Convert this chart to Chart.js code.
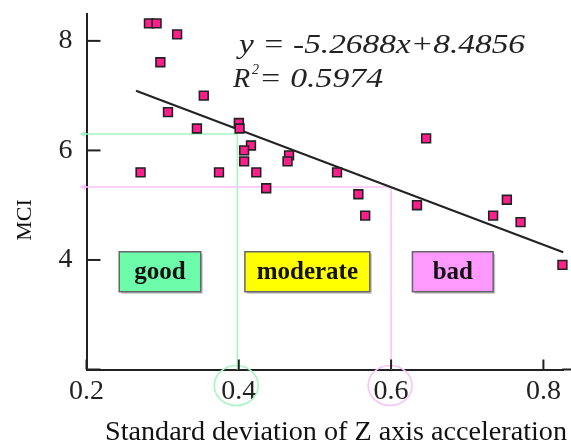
<!DOCTYPE html>
<html>
<head>
<meta charset="utf-8">
<script src="https://cdn.jsdelivr.net/npm/chart.js@4.4.1/dist/chart.umd.min.js"></script>
<style>
html,body{margin:0;padding:0;background:#fff;}
#wrap{width:571px;height:445px;position:relative;}
</style>
</head>
<body>
<div id="wrap"><canvas id="mciChart"></canvas></div>
<script>
/* ============================= */
/* DATA */
/* ============================= */

const sdZ = [0.282, 0.292, 0.319, 0.297, 0.354, 0.307, 0.345, 0.400, 0.401, 0.416, 0.407, 0.407, 0.271, 0.374, 0.423, 0.436, 0.466, 0.464, 0.529, 0.557, 0.566, 0.634, 0.646, 0.752, 0.734, 0.770, 0.825]
const mci = [8.32, 8.32, 8.12, 7.61, 7.00, 6.70, 6.40, 6.50, 6.40, 6.09, 6.00, 5.80, 5.60, 5.60, 5.60, 5.31, 5.91, 5.80, 5.60, 5.20, 4.81, 5.00, 6.22, 5.10, 4.81, 4.69, 3.91]

const trendX = [0.265, 0.826]
const trendY = [7.09, 4.14]

const xTicks = [0.2, 0.4, 0.6, 0.8]
const yTicks = [2, 4, 6, 8]

const equationText = "y = -5.2688x+8.4856"
const r2Text = "= 0.5974"

const zones = [
  {label:"good", x0:0.243, x1:0.350, fill:"#6cfcaa"},
  {label:"moderate", x0:0.408, x1:0.572, fill:"#ffff00"},
  {label:"bad", x0:0.628, x1:0.734, fill:"#ff99ff"}
]
const zoneY = [4.15, 3.42]

const guides = [
  {x:0.398, y:6.30, color:"#a6f5c2"},
  {x:0.600, y:5.33, color:"#fac2fa"}
]

const SERIF = "'Liberation Serif', 'Times New Roman', serif"

/* ============================= */
/* HELPERS */
/* ============================= */

function fitText(ctx, txt, x, y, w){
  const m = ctx.measureText(txt).width
  ctx.save()
  ctx.translate(x, y)
  ctx.scale(w / m, 1)
  ctx.fillText(txt, 0, 0)
  ctx.restore()
}

/* ============================= */
/* DECORATION PLUGIN */
/* ============================= */

const decor = {
  id:"decor",
  beforeDatasetsDraw(chart){
    const ctx = chart.ctx
    const xs = chart.scales.x, ys = chart.scales.y
    const area = chart.chartArea

    // guide lines with arrows to the y axis
    guides.forEach(g=>{
      const px = xs.getPixelForValue(g.x)
      const py = ys.getPixelForValue(g.y)
      ctx.save()
      ctx.strokeStyle = g.color
      ctx.fillStyle = g.color
      ctx.lineWidth = 1.5
      ctx.beginPath()
      ctx.moveTo(area.left - 5, py)
      ctx.lineTo(px, py)
      ctx.lineTo(px, area.bottom)
      ctx.stroke()
      ctx.beginPath()
      ctx.moveTo(area.left - 7, py)
      ctx.lineTo(area.left - 1, py - 3)
      ctx.lineTo(area.left - 1, py + 3)
      ctx.closePath()
      ctx.fill()
      // circle round the tick label
      ctx.beginPath()
      ctx.ellipse(px - 1, area.bottom + 16, 22, 20, 0, 0, Math.PI * 2)
      ctx.stroke()
      ctx.restore()
    })

    // zone boxes
    const by0 = ys.getPixelForValue(zoneY[0])
    const by1 = ys.getPixelForValue(zoneY[1])
    zones.forEach(z=>{
      const bx0 = xs.getPixelForValue(z.x0)
      const bx1 = xs.getPixelForValue(z.x1)
      ctx.save()
      ctx.fillStyle = "rgba(0,0,0,0.25)"
      ctx.fillRect(bx0 + 2, by0 + 2, bx1 - bx0, by1 - by0)
      ctx.fillStyle = z.fill
      ctx.fillRect(bx0, by0, bx1 - bx0, by1 - by0)
      ctx.strokeStyle = "#666"
      ctx.lineWidth = 1.5
      ctx.strokeRect(bx0, by0, bx1 - bx0, by1 - by0)
      ctx.fillStyle = "#111"
      ctx.font = "bold 25px " + SERIF
      ctx.textAlign = "center"
      ctx.textBaseline = "middle"
      ctx.fillText(z.label, (bx0 + bx1) / 2, (by0 + by1) / 2 + 1)
      ctx.restore()
    })

    // inward tick marks, and the x axis running on to the edge
    ctx.save()
    ctx.strokeStyle = "#222"
    ctx.lineWidth = 2
    xTicks.forEach(v=>{
      const px = xs.getPixelForValue(v)
      ctx.beginPath()
      ctx.moveTo(px, area.bottom)
      ctx.lineTo(px, area.bottom - 10)
      ctx.stroke()
    })
    yTicks.forEach(v=>{
      const py = ys.getPixelForValue(v)
      ctx.beginPath()
      ctx.moveTo(area.left, py)
      ctx.lineTo(area.left + 14, py)
      ctx.stroke()
    })
    ctx.beginPath()
    ctx.moveTo(area.right - 1, area.bottom)
    ctx.lineTo(chart.width, area.bottom)
    ctx.stroke()
    ctx.restore()
  },
  afterDraw(chart){
    const ctx = chart.ctx
    ctx.save()
    ctx.fillStyle = "#222"
    ctx.textBaseline = "alphabetic"
    ctx.textAlign = "left"

    // regression equation
    ctx.font = "italic 28px " + SERIF
    fitText(ctx, equationText, 239, 53, 286)
    ctx.fillText("R", 233, 87)
    ctx.font = "italic 14px " + SERIF
    ctx.fillText("2", 252, 74)
    ctx.font = "italic 28px " + SERIF
    fitText(ctx, r2Text, 259, 87, 124)

    // axis titles
    ctx.fillStyle = "#111"
    ctx.font = "27px " + SERIF
    fitText(ctx, "Standard deviation of Z axis acceleration", 105, 440, 462)
    ctx.save()
    ctx.translate(31, 220)
    ctx.rotate(-Math.PI / 2)
    ctx.font = "22px " + SERIF
    ctx.textAlign = "center"
    ctx.fillText("MCI", 0, 0)
    ctx.restore()

    ctx.restore()
  }
}

/* ============================= */
/* CHART */
/* ============================= */

const mciChart = new Chart(
document.getElementById("mciChart"),
{
type:"scatter",

data:{
datasets:[
{
label:"MCI",
data:sdZ.map((x,i)=>({x:x, y:mci[i]})),
pointStyle:"rect",
pointRadius:6.2,
backgroundColor:"#ff1e8c",
borderColor:"#222",
borderWidth:1.6,
clip:false
},
{
type:"line",
label:"trend",
data:trendX.map((x,i)=>({x:x, y:trendY[i]})),
borderColor:"#222",
borderWidth:2,
pointRadius:0,
fill:false,
clip:false
}
]
},

options:{
animation:false,
responsive:true,
maintainAspectRatio:false,
layout:{padding:{top:13.5, right:0, bottom:0, left:0}},
plugins:{
legend:{display:false},
tooltip:{enabled:false}
},

scales:{
x:{
type:"linear",
min:0.2,
max:0.826,
afterFit(s){ s.height = 75.5; s.paddingLeft = 0; s.paddingRight = 0 },
afterBuildTicks(s){ s.ticks = xTicks.map(v=>({value:v})) },
grid:{display:false, drawTicks:false},
border:{display:true, color:"#222", width:2},
ticks:{
padding:5,
color:"#222",
font:{family:SERIF, size:28},
maxRotation:0,
callback:v=>v.toFixed(1)
}
},
y:{
min:2,
max:8.5,
afterFit(s){ s.width = 86.5; s.paddingTop = 0; s.paddingBottom = 0 },
afterBuildTicks(s){ s.ticks = yTicks.map(v=>({value:v})) },
grid:{display:false, drawTicks:false},
border:{display:true, color:"#222", width:2},
ticks:{
padding:14,
color:"#222",
font:{family:SERIF, size:28},
callback:v=>v===2 ? "" : String(v)
}
}
}
},

plugins:[decor]
});
</script>
</body>
</html>
